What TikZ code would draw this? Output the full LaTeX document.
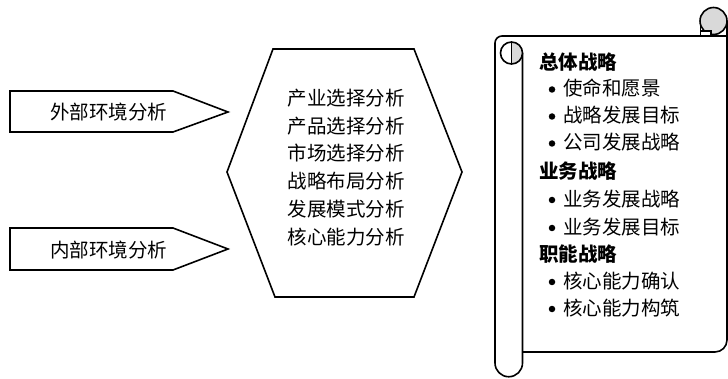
\documentclass[tikz,border=0pt]{standalone}
\usepackage{fontspec}
\newfontfamily\cjk{Noto Sans CJK SC}
\begin{document}
\begin{tikzpicture}[x=1pt,y=1pt,
  shape line/.style={draw=black,line width=1.6pt,line join=miter},
  txt/.style={inner sep=0pt,font=\cjk\fontsize{19.5}{19.5}\selectfont},
  head/.style={txt,anchor=west,font=\cjk\bfseries\fontsize{19.5}{19.5}\selectfont},
  item/.style={txt,anchor=west},
  dot/.style={circle,fill=black,inner sep=0pt,minimum size=6.5pt}]
\useasboundingbox (0,0) rectangle (728,-379);
% left arrows
\draw[shape line] (10,-91) -- (173,-91) -- (228,-112) -- (173,-132) -- (10,-132) -- cycle;
\node[txt] (ext) at (108.5,-112) {外部环境分析};
\draw[shape line] (10,-228) -- (173,-228) -- (228,-249) -- (173,-270) -- (10,-270) -- cycle;
\node[txt] (int) at (108.5,-250) {内部环境分析};
% hexagon
\draw[shape line] (273,-49) -- (414,-49) -- (462,-172) -- (414,-297) -- (275,-297) -- (227,-172) -- cycle;
\node[txt,align=center,font=\cjk\fontsize{19.5}{27.8}\selectfont] (ana) at (346,-167.5)
  {产业选择分析\\产品选择分析\\市场选择分析\\战略布局分析\\发展模式分析\\核心能力分析};
% scroll
\begin{scope}[line width=1.6pt]
\draw (495,-363) -- (495,-43) arc[start angle=180,end angle=90,radius=7] -- (700.5,-36);
\draw (522.5,-53) -- (522.5,-363) arc[start angle=0,end angle=-180,radius=13.75];
\draw (522.5,-352) -- (715,-352) arc[start angle=-90,end angle=0,radius=12] -- (727,-21);
\fill[gray!30] (511.5,-42) arc[start angle=90,end angle=-90,radius=11] -- cycle;
\draw (511.5,-53) circle (11);
\draw (511.5,-42) -- (511.5,-64);
\filldraw[fill=gray!30] (713.5,-21) circle (13.5);
\filldraw[fill=white] (700.5,-21) -- (700.5,-36) -- (711,-36) -- (711,-31) -- (700.5,-31);
\draw (700.5,-36) -- (727,-36);
\end{scope}
% scroll text
\node[head] (h1) at (539,-62) {总体战略};
\node[dot] (b1) at (552,-89.5) {}; \node[item] (i1) at (563,-88.5) {使命和愿景};
\node[dot] (b2) at (552,-116.5) {}; \node[item] (i2) at (563,-115.5) {战略发展目标};
\node[dot] (b3) at (552,-143.5) {}; \node[item] (i3) at (563,-142.5) {公司发展战略};
\node[head] (h2) at (539,-171.5) {业务战略};
\node[dot] (b4) at (552,-200) {}; \node[item] (i4) at (563,-199) {业务发展战略};
\node[dot] (b5) at (552,-228) {}; \node[item] (i5) at (563,-227) {业务发展目标};
\node[head] (h3) at (539,-254.5) {职能战略};
\node[dot] (b6) at (552,-282) {}; \node[item] (i6) at (563,-281) {核心能力确认};
\node[dot] (b7) at (552,-309) {}; \node[item] (i7) at (563,-308) {核心能力构筑};
\end{tikzpicture}
\end{document}
